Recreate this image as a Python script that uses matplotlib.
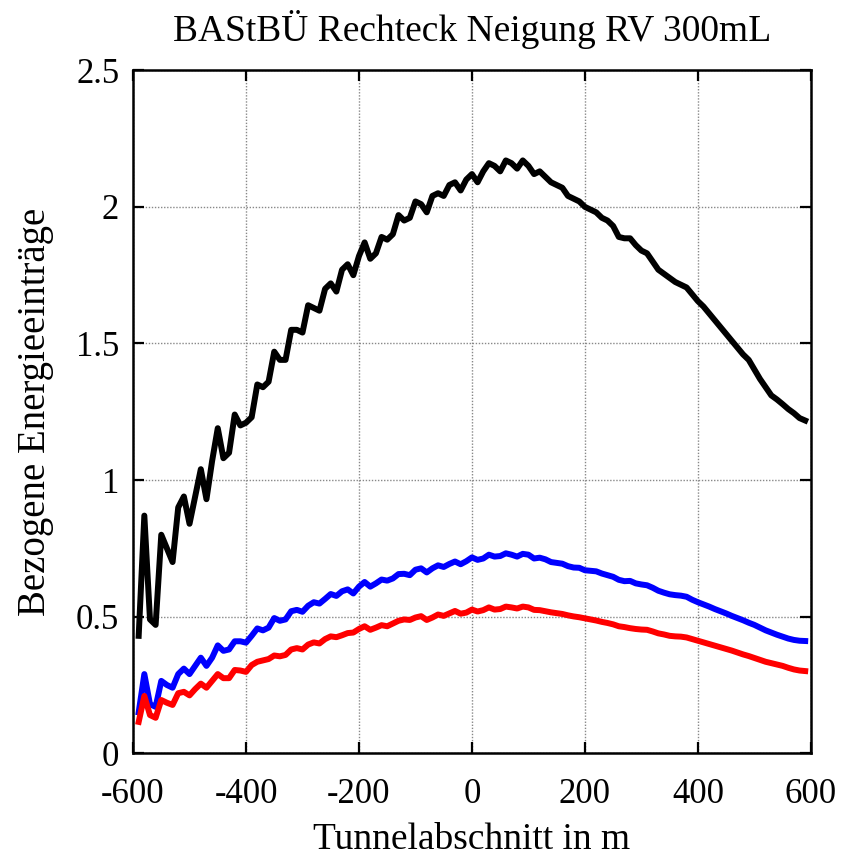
import numpy as np
import matplotlib
matplotlib.use("Agg")
import matplotlib.pyplot as plt

# Tunnelabschnitt in m (alle 10 m)
x_m = np.arange(-590, 600, 10)

schwarz = [0.43, 0.87, 0.49, 0.47, 0.80, 0.75, 0.70, 0.90, 0.94, 0.84,
           0.94, 1.04, 0.93, 1.07, 1.19, 1.08, 1.10, 1.24, 1.20, 1.21,
           1.23, 1.35, 1.34, 1.36, 1.47, 1.44, 1.44, 1.55, 1.55, 1.54,
           1.64, 1.63, 1.62, 1.70, 1.72, 1.69, 1.77, 1.79, 1.75, 1.82,
           1.87, 1.81, 1.83, 1.89, 1.88, 1.90, 1.97, 1.95, 1.96, 2.02,
           2.01, 1.98, 2.04, 2.05, 2.04, 2.08, 2.09, 2.06, 2.10, 2.12,
           2.09, 2.13, 2.16, 2.15, 2.13, 2.17, 2.16, 2.14, 2.17, 2.15,
           2.12, 2.13, 2.11, 2.09, 2.08, 2.07, 2.04, 2.03, 2.02, 2.00,
           1.99, 1.98, 1.96, 1.95, 1.93, 1.89, 1.885, 1.885, 1.86, 1.84,
           1.83, 1.80, 1.77, 1.755, 1.74, 1.725, 1.715, 1.705, 1.68, 1.655,
           1.635, 1.61, 1.585, 1.56, 1.535, 1.51, 1.485, 1.46, 1.44, 1.405,
           1.37, 1.34, 1.31, 1.295, 1.278, 1.26, 1.245, 1.227, 1.218]

blau = [0.15, 0.29, 0.18, 0.17, 0.265, 0.25, 0.24, 0.29, 0.31, 0.29,
        0.32, 0.35, 0.32, 0.35, 0.395, 0.375, 0.38, 0.41, 0.41, 0.405,
        0.43, 0.457, 0.45, 0.46, 0.495, 0.485, 0.49, 0.52, 0.525, 0.518,
        0.54, 0.553, 0.548, 0.565, 0.583, 0.576, 0.593, 0.60, 0.585, 0.61,
        0.627, 0.61, 0.622, 0.636, 0.632, 0.64, 0.656, 0.657, 0.652, 0.672,
        0.677, 0.662, 0.677, 0.688, 0.682, 0.693, 0.702, 0.692, 0.703, 0.717,
        0.708, 0.713, 0.727, 0.72, 0.722, 0.732, 0.727, 0.72, 0.73, 0.727,
        0.713, 0.716, 0.71, 0.70, 0.697, 0.694, 0.685, 0.68, 0.679, 0.67,
        0.668, 0.666, 0.658, 0.652, 0.646, 0.635, 0.63, 0.631, 0.622, 0.618,
        0.615, 0.606, 0.595, 0.588, 0.582, 0.579, 0.577, 0.573, 0.562, 0.553,
        0.545, 0.537, 0.528, 0.52, 0.512, 0.503, 0.495, 0.487, 0.478, 0.47,
        0.46, 0.45, 0.442, 0.434, 0.427, 0.42, 0.415, 0.412, 0.411]

rot = [0.115, 0.21, 0.14, 0.13, 0.195, 0.185, 0.177, 0.22, 0.225, 0.212,
       0.235, 0.255, 0.24, 0.265, 0.29, 0.275, 0.275, 0.305, 0.303, 0.298,
       0.323, 0.335, 0.34, 0.345, 0.358, 0.355, 0.36, 0.38, 0.385, 0.38,
       0.398, 0.406, 0.402, 0.418, 0.428, 0.425, 0.432, 0.44, 0.442, 0.455,
       0.465, 0.452, 0.46, 0.469, 0.465, 0.475, 0.485, 0.49, 0.488, 0.497,
       0.502, 0.488, 0.497, 0.508, 0.503, 0.512, 0.521, 0.511, 0.515, 0.526,
       0.519, 0.524, 0.534, 0.526, 0.528, 0.537, 0.534, 0.53, 0.537, 0.534,
       0.525, 0.524, 0.52, 0.516, 0.513, 0.51, 0.505, 0.501, 0.498, 0.494,
       0.49, 0.486, 0.481, 0.477, 0.472, 0.465, 0.462, 0.458, 0.455, 0.453,
       0.452, 0.446, 0.439, 0.435, 0.43, 0.428, 0.427, 0.424, 0.418, 0.412,
       0.406, 0.4, 0.394, 0.388, 0.382, 0.376, 0.369, 0.362, 0.356, 0.349,
       0.342, 0.335, 0.33, 0.325, 0.32, 0.313, 0.307, 0.303, 0.301]

xticks = [-600, -400, -200, 0, 200, 400, 600]
yticks = [0, 0.5, 1, 1.5, 2, 2.5]
ytick_labels = ["0", "0.5", "1", "1.5", "2", "2.5"]

plt.rcParams['font.family'] = ['Liberation Serif', 'DejaVu Serif']
plt.rcParams['axes.unicode_minus'] = False

fig = plt.figure(figsize=(8.42, 8.57), dpi=100)
ax = fig.add_axes([0.158, 0.121, 0.805, 0.797])

ax.plot(x_m, schwarz, color="black", lw=4.3)
ax.plot(x_m, blau, color="blue", lw=4.3)
ax.plot(x_m, rot, color="red", lw=4.3)

ax.set_xlim(-600, 600)
ax.set_ylim(0, 2.5)
ax.set_xticks(xticks)
ax.set_yticks(yticks)
ax.set_yticklabels(ytick_labels)
ax.grid(True, color="#888888", linestyle=(0, (1, 1.2)), linewidth=1.0)
ax.tick_params(direction="in", length=8, width=1.6, labelsize=25,
               top=True, right=True)
ax.tick_params(axis="x", pad=18)
ax.tick_params(axis="y", pad=10)
for s in ax.spines.values():
    s.set_linewidth(1.8)

ax.set_title("BAStBÜ Rechteck Neigung RV 300mL", fontsize=27, pad=21)
ax.set_xlabel("Tunnelabschnitt in m", fontsize=27, labelpad=8)
ax.set_ylabel("Bezogene Energieeinträge", fontsize=28, labelpad=16)

fig.savefig("out.png", dpi=100)
